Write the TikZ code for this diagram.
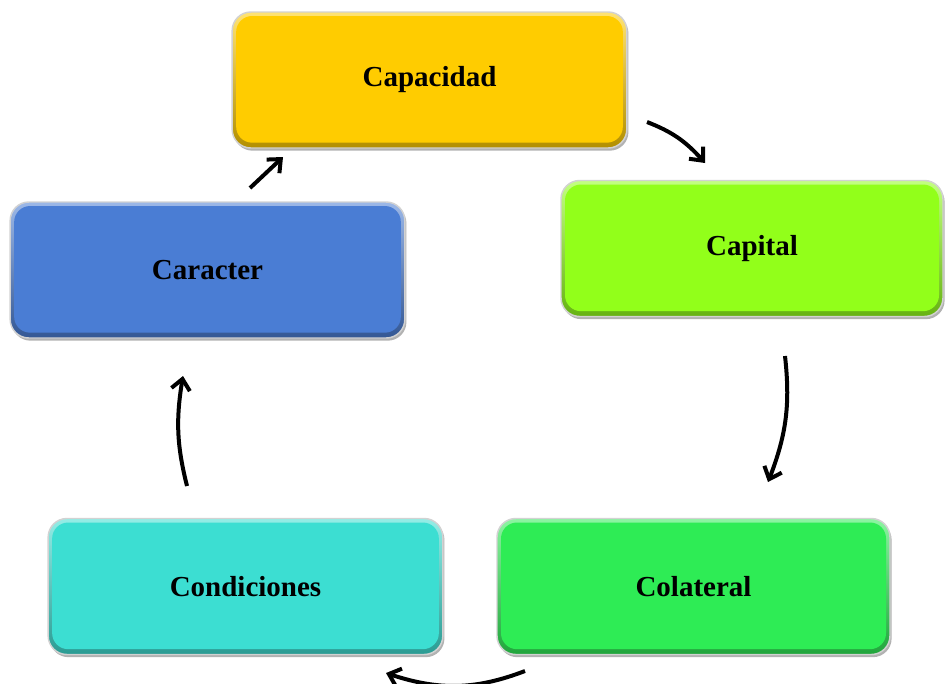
\documentclass[tikz,border=0pt]{standalone}
\usepackage{fontspec}
\setmainfont{Liberation Serif}
\usetikzlibrary{arrows.meta,shadows,bending}
\definecolor{cgold}{RGB}{255,204,0}
\definecolor{clime}{RGB}{146,255,26}
\definecolor{cblue}{RGB}{74,125,212}
\definecolor{ccyan}{RGB}{60,222,210}
\definecolor{cgreen}{RGB}{46,236,85}
\tikzset{
  boxbase/.style={rounded corners=14pt, inner sep=0pt, minimum width=296pt, minimum height=102pt,
    draw=gray!35, line width=1.1pt, text=black,
    font=\bfseries\fontsize{21.75}{24}\selectfont,
    drop shadow={shadow xshift=1.2pt, shadow yshift=-2pt, opacity=0.3, fill=black}},
  bevelbox/.style={boxbase, top color=#1!55!white, bottom color=#1!70!black,
    path picture={\fill[#1, rounded corners=12pt]
      ([xshift=3pt,yshift=-3pt]path picture bounding box.north west) rectangle
      ([xshift=-3pt,yshift=4pt]path picture bounding box.south east);}},
  flow/.style={line width=3pt, -{Straight Barb[length=8pt,width=14pt]}}
}
\begin{document}
\begin{tikzpicture}[x=0.75pt,y=-0.75pt]
\useasboundingbox (0,0) rectangle (945,683);
\node[bevelbox=cgold] (cap) at (429.5,80) {Capacidad};
\node[bevelbox=clime, minimum width=286.5pt] (capi) at (752,248.5) {Capital};
\node[bevelbox=cblue] (car) at (207.5,270) {Caracter};
\node[bevelbox=ccyan] (cond) at (245.5,586.5) {Condiciones};
\node[bevelbox=cgreen, minimum width=294.75pt] (col) at (693.5,586.5) {Colateral};
% connector ends
\coordinate (a1s) at (250,188); \coordinate (a1e) at (283,157);
\coordinate (a2s) at (647,122); \coordinate (a2e) at (705,163);
\coordinate (a3s) at (785,356); \coordinate (a3e) at (768,482);
\coordinate (a4s) at (525,671); \coordinate (a4e) at (386,673);
\coordinate (a5s) at (187,486); \coordinate (a5e) at (183,376);
\draw[flow] (a1s) -- (a1e);
\draw[flow] (a2s) to[bend left=14] (a2e);
\draw[flow] (a3s) to[bend left=14] (a3e);
\draw[flow] (a4s) to[bend left=20] (a4e);
\draw[flow] (a5s) to[bend left=12] (a5e);
\end{tikzpicture}
\end{document}
